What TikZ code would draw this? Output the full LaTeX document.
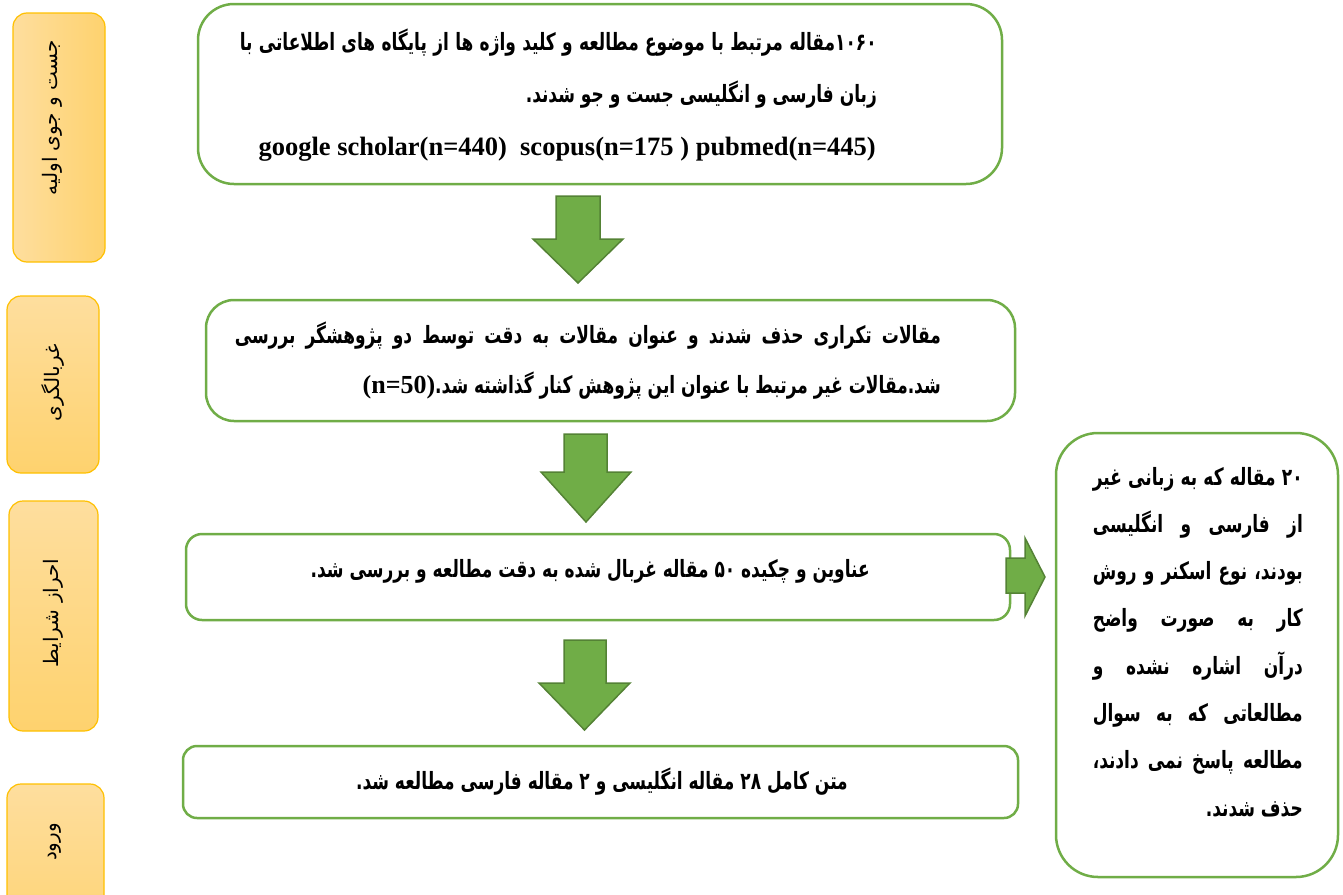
\documentclass[tikz,border=0pt]{standalone}
\usepackage{graphicx}
\usepackage{fontspec}
\setmainfont{Liberation Serif}
\newfontfamily\fa[Script=Arabic]{DejaVu Sans}
\TeXXeTstate=1
\definecolor{gbord}{HTML}{70AD47}
\definecolor{garrow}{HTML}{70AD47}
\definecolor{garrowd}{HTML}{548235}
\definecolor{ybord}{HTML}{FFC000}
\definecolor{ytop}{RGB}{254,222,158}
\definecolor{ybot}{RGB}{254,210,110}
\tikzset{
  gbox/.style={draw=gbord, line width=2.5pt, fill=white, rounded corners=#1, inner sep=0pt},
  ybox/.style={draw=ybord, line width=1.2pt, rounded corners=14pt, top color=ytop, bottom color=ybot, inner sep=0pt},
  ybox1/.style={draw=ybord, line width=1.2pt, rounded corners=14pt, left color=ytop, right color=ybot, inner sep=0pt},
  garr/.style={fill=garrow, draw=garrowd, line width=1.5pt, line join=miter},
  faline/.style={inner sep=0pt, anchor=base east, font=\fa\bfseries\fontsize{17}{20}\selectfont},
  enline/.style={inner sep=0pt, anchor=base east, font=\bfseries\fontsize{26.5}{28}\selectfont},
  lbl/.style={font=\fa\fontsize{20}{22}\selectfont, rotate=90, inner sep=0pt},
}
\newcommand{\vs}[1]{\scalebox{1}[1.4]{#1}}
\begin{document}
\begin{tikzpicture}[x=1pt,y=-1pt]
\useasboundingbox (0,0) rectangle (1343,894);
\clip (0,0) rectangle (1343,894);
% left stage boxes
\node[ybox1, minimum width=92pt, minimum height=249pt] (y1) at (59,137.5) {};
\node[ybox, minimum width=92pt, minimum height=177pt] (y2) at (53,384.5) {};
\node[ybox, minimum width=89pt, minimum height=230pt] (y3) at (53.5,616) {};
\node[ybox, minimum width=97pt, minimum height=176pt] (y4) at (55.5,872) {};
\node[lbl] (l1) at (52,118) {\beginR جست و جوی اولیه\endR};
\node[lbl] (l2) at (53,383) {\beginR غربالگری\endR};
\node[lbl] (l3) at (53,613) {\beginR احراز شرایط\endR};
\node[lbl] (l4) at (55,842) {\beginR ورود\endR};
% main boxes
\node[gbox=36pt, minimum width=804pt, minimum height=180pt] (a) at (600,94) {};
\node[gbox=28pt, minimum width=809pt, minimum height=121pt] (b) at (610.5,360.5) {};
\node[gbox=16pt, minimum width=824pt, minimum height=86pt] (c) at (598,577) {};
\node[gbox=14pt, minimum width=835pt, minimum height=72pt] (d) at (600.5,782) {};
\node[gbox=42pt, minimum width=282pt, minimum height=444pt] (e) at (1197,655) {};
% box a text
\node[faline] (a1) at (877,50) {\vs{\hbox to 637pt{\beginR ۱۰۶۰مقاله مرتبط با موضوع مطالعه و کلید واژه ها از پایگاه های اطلاعاتی با\endR}}};
\node[faline] (a2) at (877,102) {\vs{\beginR زبان فارسی و انگلیسی جست و جو شدند.\endR}};
\node[enline] (a3) at (876,155) {google scholar(n=440)\ \ scopus(n=175 ) pubmed(n=445)};
% box b text
\node[faline] (b1) at (941,343) {\vs{\hbox to 706pt{\beginR مقالات تکراری حذف شدند و عنوان مقالات به دقت توسط دو پژوهشگر بررسی\endR}}};
\node[faline] (b2) at (941,393) {\vs{\beginR شد.مقالات غیر مرتبط با عنوان این پژوهش کنار گذاشته شد.\beginL{\rmfamily\fontsize{26}{28}\selectfont\scalebox{1}[0.7143]{(n=50)}}\endL\endR}};
% box c, d text
\node[faline] (c1) at (870,577) {\vs{\beginR عناوین و چکیده ۵۰ مقاله غربال شده به دقت مطالعه و بررسی شد.\endR}};
\node[faline] (d1) at (848,789) {\vs{\beginR متن کامل ۲۸ مقاله انگلیسی و ۲ مقاله فارسی مطالعه شد.\endR}};
% box e text
\node[faline] (e1) at (1303,485) {\vs{\hbox to 210pt{\beginR ۲۰ مقاله که به زبانی غیر\endR}}};
\node[faline] (e2) at (1303,532.3) {\vs{\hbox to 210pt{\beginR از فارسی و انگلیسی\endR}}};
\node[faline] (e3) at (1303,579.6) {\vs{\hbox to 210pt{\beginR بودند، نوع اسکنر و روش\endR}}};
\node[faline] (e4) at (1303,626.9) {\vs{\hbox to 210pt{\beginR کار به صورت واضح\endR}}};
\node[faline] (e5) at (1303,674.2) {\vs{\hbox to 210pt{\beginR درآن اشاره نشده و\endR}}};
\node[faline] (e6) at (1303,721.5) {\vs{\hbox to 210pt{\beginR مطالعاتی که به سوال\endR}}};
\node[faline] (e7) at (1303,768.8) {\vs{\hbox to 210pt{\beginR مطالعه پاسخ نمی دادند،\endR}}};
\node[faline] (e8) at (1303,816.1) {\vs{\beginR حذف شدند.\endR}};
% block arrows
\draw[garr] (556,196) -- (600,196) -- (600,239) -- (623,239) -- (578,283) -- (533,239) -- (556,239) -- cycle;
\draw[garr] (564,434) -- (607,434) -- (607,472) -- (631,472) -- (586,522) -- (541,472) -- (564,472) -- cycle;
\draw[garr] (564,640) -- (606,640) -- (606,683) -- (630,683) -- (584.5,730) -- (539,683) -- (564,683) -- cycle;
\draw[garr] (1006,558) -- (1025,558) -- (1025,538) -- (1045,577) -- (1025,616) -- (1025,593) -- (1006,593) -- cycle;
\end{tikzpicture}
\end{document}
